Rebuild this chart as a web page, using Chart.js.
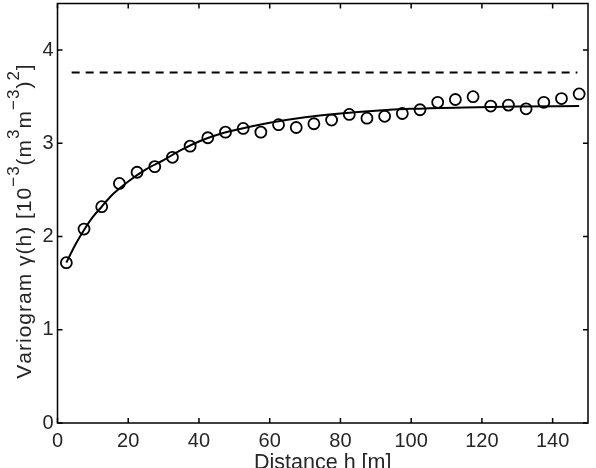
<!DOCTYPE html>
<html>
<head>
<meta charset="utf-8">
<script src="https://cdn.jsdelivr.net/npm/chart.js@4"></script>
<style>
  html, body { margin: 0; padding: 0; background: #fff; }
  #chart { display: block; }
</style>
</head>
<body>
<canvas id="chart" width="596" height="468"></canvas>
<script>
// experimental variogram (lag centres and values)
const lagH = [2.5, 7.5, 12.5, 17.5, 22.5, 27.5, 32.5, 37.5, 42.5, 47.5, 52.5, 57.5, 62.5, 67.5, 72.5,
              77.5, 82.5, 87.5, 92.5, 97.5, 102.5, 107.5, 112.5, 117.5, 122.5, 127.5, 132.5, 137.5, 142.5, 147.5];
const gammaObs = [1.72, 2.08, 2.32, 2.57, 2.69, 2.75, 2.85, 2.97, 3.06, 3.12, 3.16, 3.12, 3.20, 3.17, 3.21,
                  3.25, 3.31, 3.27, 3.29, 3.32, 3.36, 3.44, 3.47, 3.50, 3.40, 3.41, 3.37, 3.44, 3.48, 3.53];

// fitted model curve
const curveH = [2.5, 5, 7.5, 10, 12.5, 15, 20, 25, 30, 35, 40, 45, 50, 60, 70, 80, 90, 100, 115, 130, 147.5];
const curveG = [1.72, 1.91, 2.07, 2.21, 2.32, 2.43, 2.59, 2.72, 2.82, 2.93, 3.02, 3.09, 3.14, 3.22, 3.28, 3.32, 3.35, 3.37, 3.385, 3.395, 3.40];

// sill (dashed)
const sillH = [4, 147];
const sillG = [3.76, 3.76];

const xTicks = [0, 20, 40, 60, 80, 100, 120, 140];
const yTicks = [0, 1, 2, 3, 4];

const INK = '#000';
const TEXT = '#262626';
const FONT = 'Liberation Sans, Arial, Helvetica, sans-serif';

const toPts = (xs, ys) => xs.map((x, i) => ({ x: x, y: ys[i] }));

// frame, inward ticks and axis titles
const framePlugin = {
  id: 'frame',
  afterDraw(chart) {
    const ctx = chart.ctx;
    const a = chart.chartArea;
    const xs = chart.scales.x, ys = chart.scales.y;
    const tl = 5;
    ctx.save();
    ctx.strokeStyle = INK;
    ctx.lineWidth = 1.5;
    ctx.strokeRect(a.left, a.top, a.right - a.left, a.bottom - a.top);
    ctx.beginPath();
    xTicks.forEach(v => {
      const px = xs.getPixelForValue(v);
      ctx.moveTo(px, a.bottom); ctx.lineTo(px, a.bottom - tl);
      ctx.moveTo(px, a.top); ctx.lineTo(px, a.top + tl);
    });
    yTicks.forEach(v => {
      const py = ys.getPixelForValue(v);
      ctx.moveTo(a.left, py); ctx.lineTo(a.left + tl, py);
      ctx.moveTo(a.right, py); ctx.lineTo(a.right - tl, py);
    });
    ctx.stroke();

    // x title
    ctx.fillStyle = TEXT;
    ctx.font = '21.5px ' + FONT;
    ctx.textAlign = 'center';
    ctx.textBaseline = 'alphabetic';
    ctx.fillText('Distance h [m]', (a.left + a.right) / 2, 469);

    // y title with superscripts, drawn char by char with a little spacing
    const parts = [
      { t: 'Variogram \u03b3(h) [10' }, { t: '\u22123', sup: true }, { t: '(m' }, { t: '3', sup: true },
      { t: 'm' }, { t: '\u22123', sup: true }, { t: ')' }, { t: '2', sup: true }, { t: ']' }
    ];
    const bigF = '21px ' + FONT, supF = '17px ' + FONT;
    const gap = 1;
    const glyphs = [];
    let total = 0;
    parts.forEach(p => {
      ctx.font = p.sup ? supF : bigF;
      for (const ch of p.t) {
        const w = ctx.measureText(ch).width + gap;
        glyphs.push({ ch: ch, sup: p.sup, w: w });
        total += w;
      }
    });
    ctx.translate(30.5, 221);
    ctx.rotate(-Math.PI / 2);
    ctx.textAlign = 'left';
    let cx = -total / 2;
    glyphs.forEach(g => {
      ctx.font = g.sup ? supF : bigF;
      ctx.fillText(g.ch, cx, g.sup ? -12 : 0);
      cx += g.w;
    });
    ctx.restore();
  }
};

new Chart(document.getElementById('chart'), {
  type: 'scatter',
  data: {
    datasets: [
      {
        label: 'observed',
        data: toPts(lagH, gammaObs),
        showLine: false,
        pointStyle: 'circle',
        pointRadius: 5.5,
        pointBorderWidth: 1.8,
        pointBackgroundColor: 'rgba(255,255,255,0)',
        pointBorderColor: INK,
        order: 1
      },
      {
        label: 'model',
        data: toPts(curveH, curveG),
        showLine: true,
        borderColor: INK,
        borderWidth: 2,
        pointRadius: 0,
        cubicInterpolationMode: 'monotone',
        order: 2
      },
      {
        label: 'sill',
        data: toPts(sillH, sillG),
        showLine: true,
        borderColor: INK,
        borderWidth: 2,
        borderDash: [8, 6],
        pointRadius: 0,
        order: 3
      }
    ]
  },
  options: {
    responsive: false,
    animation: false,
    devicePixelRatio: 1,
    layout: { autoPadding: false, padding: { top: 3.5, right: 8, left: 0, bottom: 0 } },
    plugins: { legend: { display: false }, tooltip: { enabled: false } },
    scales: {
      x: {
        type: 'linear',
        min: 0, max: 150,
        grid: { display: false, drawTicks: false },
        border: { display: false },
        afterBuildTicks: s => { s.ticks = xTicks.map(v => ({ value: v })); },
        afterFit: s => { s.height = 45; s.paddingLeft = 0; s.paddingRight = 0; },
        ticks: { color: TEXT, font: { family: FONT, size: 20 }, padding: 6, maxRotation: 0, autoSkip: false }
      },
      y: {
        type: 'linear',
        min: 0, max: 4.5,
        grid: { display: false, drawTicks: false },
        border: { display: false },
        afterBuildTicks: s => { s.ticks = yTicks.map(v => ({ value: v })); },
        afterFit: s => { s.width = 57.5; s.paddingTop = 0; s.paddingBottom = 0; },
        ticks: { color: TEXT, font: { family: FONT, size: 20 }, padding: 4, autoSkip: false }
      }
    }
  },
  plugins: [framePlugin]
});
</script>
</body>
</html>
